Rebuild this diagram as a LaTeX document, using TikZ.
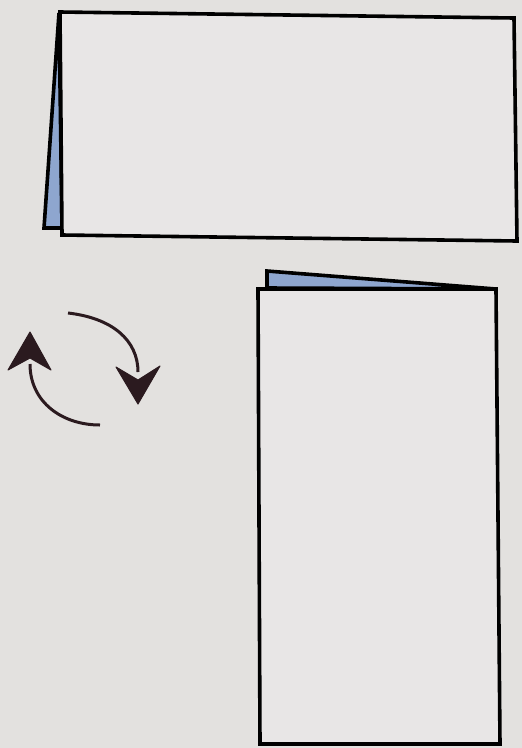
\documentclass[tikz,border=0pt]{standalone}
\usetikzlibrary{calc}
\definecolor{bg}{HTML}{E3E1DF}
\definecolor{paper}{HTML}{E8E6E6}
\definecolor{flap}{HTML}{8EA6CF}
\definecolor{arr}{HTML}{2B1A1F}
\tikzset{
  edge/.style={draw=black, line width=3.6pt, line join=miter},
  frontpanel/.style={edge, fill=paper},
  backpanel/.style={edge, fill=flap},
  turnline/.style={draw=arr, line width=3pt},
  turnhead/.style={fill=arr, draw=arr, line width=1pt, line join=round}
}
\begin{document}
\begin{tikzpicture}[x=1pt, y=-1pt]
  \fill[bg] (0,0) rectangle (522,748);
  \useasboundingbox (0,0) rectangle (522,748);
  % top piece: folded card lying horizontally
  \path[backpanel] (59,13) -- (44,228) -- (62,228) -- cycle;
  \path[frontpanel] (60,12) -- (514,18) -- (517,241) -- (62,235) -- cycle;
  % bottom piece: folded card standing vertically
  \path[backpanel] (267,288) -- (267,271) -- (496,289) -- cycle;
  \path[frontpanel] (258,289) -- (496,289) -- (500,744) -- (260,744) -- cycle;
  % rotation arrows
  \draw[turnline] (68,313) .. controls (112,318) and (138,340) .. (138,372);
  \path[turnhead] (116,367) -- (138,380) -- (160,366) -- (138,404) -- cycle;
  \draw[turnline] (30,364) .. controls (30,402) and (62,425) .. (100,425);
  \path[turnhead] (8,370) -- (30,358) -- (51,370) -- (30,332) -- cycle;
\end{tikzpicture}
\end{document}
